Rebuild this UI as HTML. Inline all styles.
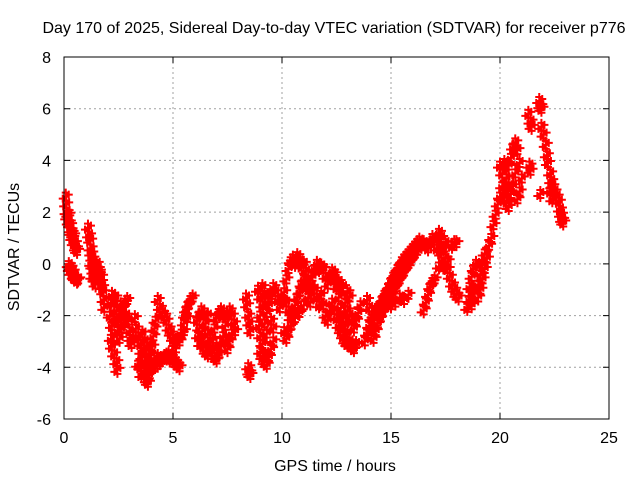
<!DOCTYPE html>
<html><head><meta charset="utf-8"><style>
body{margin:0;background:#fff}
svg text{font-family:"Liberation Sans",sans-serif;font-size:16px;fill:#000}
</style></head><body>
<svg id="chart" width="640" height="480">
<text x="334" y="33" text-anchor="middle">Day 170 of 2025, Sidereal Day-to-day VTEC variation (SDTVAR) for receiver p776</text>
<text x="335" y="471" text-anchor="middle">GPS time / hours</text>
<text transform="translate(19,247) rotate(-90)" text-anchor="middle">SDTVAR / TECUs</text>
<g id="grid"></g>
<g id="ticks"></g>
<g id="pts"></g>
<rect x="64" y="57" width="545" height="362" fill="none" stroke="#000" stroke-width="1"/>
</svg>
<script>
const xTicks=[0,5,10,15,20,25];
const yTicks=[-6,-4,-2,0,2,4,6,8];
const times=[0.08,0.1,0.12,0.15,0.2,0.22,0.28,0.3,0.35,0.38,0.42,0.45,0.5,0.55,0.6,
0.22,0.27,0.3,0.35,0.4,0.45,0.5,0.6,0.65,
1.1,1.15,1.2,1.22,1.25,1.3,1.3,1.35,1.4,1.45,1.3,1.25,
1.5,1.55,1.6,1.65,1.7,1.75,1.8,1.82,1.85,1.6,1.7,
2.1,2.15,2.2,2.3,2.4,2.5,2.6,2.7,2.8,2.9,2.45,2.55,2.65,2.75,2.85,2.95,3.0,3.05,3.1,2.2,2.3,2.4,2.35,2.6,
2.15,2.2,2.3,2.4,2.45,
3.25,3.3,3.4,3.5,3.55,3.6,3.7,3.75,3.8,3.85,3.9,3.95,4.0,4.05,4.1,4.15,4.2,3.6,3.7,3.8,3.9,4.0,4.1,4.2,4.25,3.5,3.55,3.4,4.3,
4.3,4.4,4.5,4.6,4.7,4.8,4.9,5.0,5.1,5.2,
4.3,4.4,4.5,4.6,4.7,4.8,4.9,5.0,5.1,5.2,5.3,5.0,4.85,
5.3,5.4,5.5,5.55,5.6,5.7,5.8,5.9,5.5,5.65,
6.1,6.2,6.3,6.4,6.5,6.6,6.7,6.8,6.9,7.0,7.1,7.2,7.3,7.4,7.5,7.6,7.7,7.8,7.85,6.2,6.3,6.4,6.5,6.6,6.7,6.8,6.9,7.0,7.1,7.2,7.3,7.4,7.5,7.6,7.7,6.15,6.25,6.35,6.6,7.0,
8.35,8.4,8.45,8.5,8.55,8.45,8.5,8.55,
8.9,9.0,9.1,9.0,8.95,9.0,9.1,9.0,9.1,9.2,9.3,9.4,9.5,9.6,9.3,9.2,9.3,9.4,9.5,9.6,9.7,9.8,9.9,9.5,9.6,9.2,9.1,
10.0,10.1,10.2,10.3,10.4,10.5,10.6,10.7,10.8,10.9,11.0,11.1,11.2,11.3,11.4,11.5,11.6,11.7,10.2,10.3,10.4,10.5,10.6,10.7,10.8,10.9,11.0,11.1,11.2,11.3,10.1,10.2,10.3,10.4,10.6,10.8,11.0,11.5,11.6,11.7,
11.8,11.9,12.0,12.1,12.2,12.3,12.4,12.5,12.6,12.7,12.8,12.9,13.0,13.1,13.2,13.3,13.4,11.8,11.9,12.0,12.1,12.2,12.3,12.4,12.5,12.6,12.7,12.8,12.9,13.0,12.9,13.0,13.1,13.2,13.3,13.4,13.5,13.6,13.1,13.0,12.8,12.6,12.4,
13.8,13.9,14.0,14.1,14.2,14.3,14.4,14.5,14.6,14.7,14.8,14.9,15.0,15.1,15.2,15.3,15.4,15.5,15.6,15.7,15.8,15.9,16.0,16.1,16.2,16.3,16.4,16.5,13.9,14.0,14.1,14.2,14.3,14.4,14.5,14.6,14.7,14.8,14.9,15.0,15.1,15.2,15.3,15.4,15.5,15.6,15.7,15.8,15.9,16.0,16.1,16.2,15.0,15.2,15.4,15.6,15.8,
16.5,16.6,16.7,16.8,16.9,17.0,
16.7,16.8,16.9,17.0,17.1,17.2,17.3,17.4,17.5,17.6,17.7,17.8,17.9,18.0,18.1,17.3,17.2,17.4,17.6,17.8,17.9,18.0,17.5,17.1,
18.5,18.6,18.7,18.6,18.7,18.8,18.9,18.8,18.7,
19.0,19.1,19.2,19.3,19.4,19.5,19.6,19.7,19.8,19.9,20.0,19.1,19.2,19.3,19.0,
20.0,20.1,20.1,20.2,20.3,20.4,20.3,20.4,20.5,20.6,20.7,20.8,20.9,21.0,20.9,20.8,20.6,20.5,20.7,20.2,20.4,
21.3,21.4,21.45,21.35,21.4,
21.8,21.85,21.9,
21.9,22.0,22.1,22.15,22.2,22.3,22.35,22.4,22.5,22.6,22.7,22.75,22.8,22.85,22.9,21.85,22.3,22.4];
const values=[2.6,2.3,2.0,1.8,1.9,1.6,1.5,1.3,1.2,1.0,1.1,0.8,0.8,0.6,0.5,
-0.05,-0.2,-0.15,-0.35,-0.3,-0.5,-0.55,-0.65,-0.6,
1.4,1.1,0.9,0.6,0.4,0.2,-0.1,-0.3,-0.6,-0.8,-0.5,0.0,
0.0,-0.2,-0.4,-0.5,-0.7,-0.9,-1.1,-1.4,-1.7,-0.3,-0.5,
-2.0,-1.5,-1.2,-1.5,-1.8,-2.2,-2.0,-1.7,-1.5,-1.4,-2.6,-2.9,-2.5,-2.3,-2.0,-2.2,-2.6,-2.9,-3.1,-2.4,-2.2,-2.1,-1.3,-1.6,
-2.9,-3.2,-3.5,-3.8,-4.1,
-2.1,-2.5,-2.8,-3.1,-3.4,-3.6,-3.9,-4.2,-4.5,-4.6,-4.3,-4.0,-3.5,-3.2,-2.8,-2.5,-2.2,-2.7,-3.0,-3.2,-3.5,-3.8,-4.0,-3.9,-3.7,-4.0,-4.3,-3.9,-3.6,
-1.4,-1.7,-1.9,-2.0,-2.2,-2.5,-2.7,-2.9,-3.1,-3.0,
-3.9,-3.8,-3.7,-3.6,-3.55,-3.5,-3.6,-3.7,-3.8,-3.9,-4.0,-3.5,-3.7,
-3.0,-2.7,-2.3,-2.0,-1.8,-1.6,-1.4,-1.3,-2.6,-2.1,
-2.2,-2.0,-1.8,-2.0,-2.3,-2.7,-3.0,-3.3,-3.6,-3.7,-3.5,-3.2,-2.8,-2.4,-2.0,-1.8,-2.0,-2.3,-2.6,-2.5,-2.9,-3.2,-3.4,-3.5,-3.3,-2.9,-2.5,-2.1,-1.9,-1.8,-2.0,-3.0,-3.3,-3.0,-2.7,-2.8,-3.1,-2.6,-2.0,-3.2,
-1.3,-1.6,-2.0,-2.3,-2.6,-4.0,-4.2,-4.3,
-1.0,-1.3,-1.6,-2.0,-2.4,-2.8,-3.1,-3.4,-3.6,-3.8,-3.9,-3.6,-3.3,-3.0,-2.7,-2.3,-1.9,-1.6,-1.2,-0.9,-1.1,-1.4,-1.7,-2.2,-2.5,-1.2,-0.9,
-1.4,-1.1,-0.6,-0.2,0.1,0.2,0.0,0.3,0.1,-0.1,0.0,-0.3,-0.6,-0.9,-0.5,-0.2,0.0,-0.2,-1.5,-1.8,-2.1,-1.9,-1.6,-1.3,-1.1,-0.8,-0.6,-0.9,-1.3,-1.5,-2.6,-2.9,-2.6,-2.4,-2.1,-1.9,-1.6,-1.0,-1.3,-1.6,
-0.1,-0.2,-0.5,-0.8,-0.5,-0.3,-0.6,-0.9,-1.3,-1.7,-2.1,-2.4,-2.7,-3.0,-3.2,-3.3,-3.1,-1.2,-1.6,-2.0,-2.2,-1.8,-1.5,-1.8,-2.1,-2.4,-2.6,-2.8,-3.0,-3.1,-1.5,-1.8,-2.0,-2.2,-2.5,-2.2,-1.9,-1.6,-1.3,-1.1,-0.9,-0.7,-0.4,
-3.0,-2.7,-2.4,-2.1,-2.0,-1.9,-1.7,-1.6,-1.4,-1.2,-1.1,-0.9,-0.7,-0.5,-0.4,-0.2,-0.1,0.1,0.2,0.3,0.4,0.5,0.6,0.7,0.8,0.9,0.7,0.8,-1.4,-1.7,-2.6,-2.9,-2.6,-2.3,-2.1,-1.9,-1.7,-1.5,-1.4,-1.2,-1.0,-0.9,-0.7,-0.6,-0.4,-0.3,-0.1,0.0,0.1,0.3,0.4,0.5,-1.6,-1.5,-1.3,-1.4,-1.2,
-1.8,-1.5,-1.2,-0.9,-0.7,-0.6,
0.6,0.8,1.0,0.9,1.0,1.2,1.0,0.6,0.2,-0.2,-0.5,-0.8,-1.0,-1.2,-1.3,0.4,-0.1,-0.1,0.1,0.7,0.8,0.8,0.8,0.6,
-1.7,-1.4,-1.2,-0.9,-0.5,-0.2,0.0,-1.0,-1.6,
-1.3,-1.0,-0.6,-0.2,0.2,0.7,1.0,1.5,1.9,2.3,2.6,-0.4,0.0,0.4,-0.8,
3.8,3.5,3.0,2.6,2.4,2.2,3.3,3.8,4.1,4.5,4.7,4.4,3.9,3.3,2.8,2.5,3.0,2.7,3.5,3.9,3.0,
5.8,5.5,5.3,3.8,3.6,
6.3,6.1,6.0,
5.3,5.0,4.6,4.2,3.9,3.5,3.2,3.0,2.8,2.6,2.4,2.1,1.9,1.7,1.6,2.7,2.8,2.5];
const X0=64,X1=609,Y0=419,Y1=57;
const xScale=t=>X0+(t-0)/(25-0)*(X1-X0);
const yScale=v=>Y0-(v-(-6))/(8-(-6))*(Y0-Y1);
const NS='http://www.w3.org/2000/svg';
const grid=document.getElementById('grid'),ticks=document.getElementById('ticks'),pts=document.getElementById('pts');
xTicks.forEach(t=>{const x=xScale(t);
 if(t>0&&t<25){const l=document.createElementNS(NS,'line');l.setAttribute('x1',x);l.setAttribute('x2',x);l.setAttribute('y1',Y1);l.setAttribute('y2',Y0);l.setAttribute('stroke','#a0a0a0');l.setAttribute('stroke-dasharray','2,3');
 
 grid.appendChild(l);}
 const tk=document.createElementNS(NS,'path');tk.setAttribute('d',`M${x},${Y0}v-6M${x},${Y1}v6`);tk.setAttribute('stroke','#000');
 
 ticks.appendChild(tk);
 const tx=document.createElementNS(NS,'text');tx.setAttribute('x',x);tx.setAttribute('y',443);tx.setAttribute('text-anchor','middle');tx.textContent=t;
 
 ticks.appendChild(tx);});
yTicks.forEach(v=>{const y=yScale(v);
 if(v>-6&&v<8){const l=document.createElementNS(NS,'line');l.setAttribute('x1',X0);l.setAttribute('x2',X1);l.setAttribute('y1',y);l.setAttribute('y2',y);l.setAttribute('stroke','#a0a0a0');l.setAttribute('stroke-dasharray','2,3');
 
 grid.appendChild(l);}
 const tk=document.createElementNS(NS,'path');tk.setAttribute('d',`M${X0},${y}h6M${X1},${y}h-6`);tk.setAttribute('stroke','#000');
 
 ticks.appendChild(tk);
 const tx=document.createElementNS(NS,'text');tx.setAttribute('x',51);tx.setAttribute('y',y+6);tx.setAttribute('text-anchor','end');tx.textContent=v;
 
 ticks.appendChild(tx);});
// marker glyph: cluster of '+' symbols (visual style only)
const glyphOffsets=[[0,0],[-3,2],[3,-2],[0,4],[0,-4]];
let d='';
for(let i=0;i<times.length;i++){const x=xScale(times[i]),y=yScale(values[i]);
 for(const o of glyphOffsets){d+=`M${x+o[0]-4},${y+o[1]}h8M${x+o[0]},${y+o[1]-4}v8`;}}
const p=document.createElementNS(NS,'path');p.setAttribute('d',d);p.setAttribute('stroke','#ff0000');p.setAttribute('stroke-width','2');p.setAttribute('fill','none');


pts.appendChild(p);
</script>
</body></html>
